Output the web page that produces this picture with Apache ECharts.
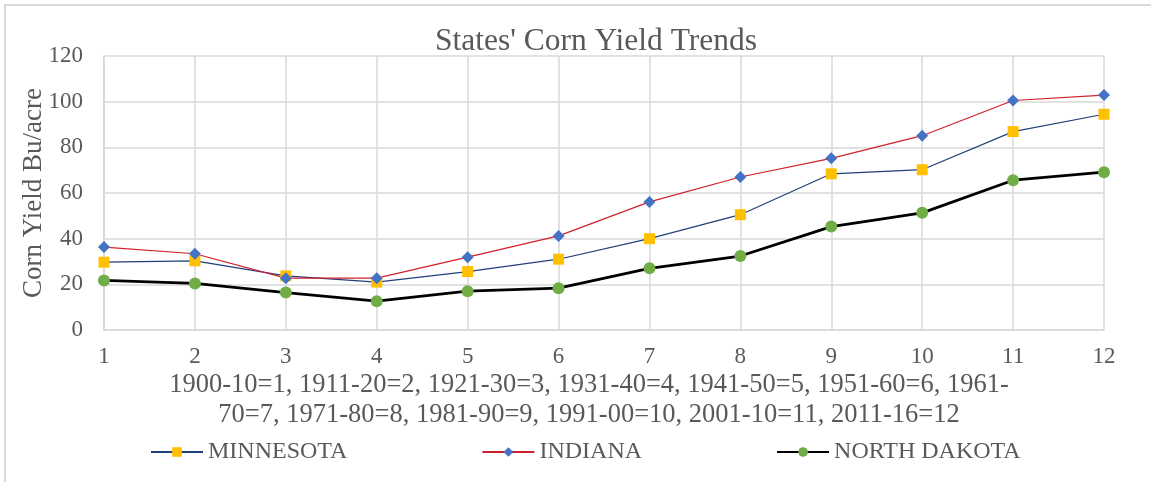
<!DOCTYPE html>
<html>
<head>
<meta charset="utf-8">
<script src="https://cdn.jsdelivr.net/npm/echarts@6/dist/echarts.min.js"></script>
<style>
html,body{margin:0;padding:0;background:#fff;}
#frame{position:absolute;left:4px;top:4px;width:1160px;height:490px;border-left:2px solid #d9d9d9;border-top:2px solid #d9d9d9;box-sizing:border-box;}
#chart{position:absolute;left:0;top:0;width:1151px;height:482px;}
</style>
</head>
<body>
<div id="frame"></div>
<div id="chart"></div>
<script>
const categories = ['1','2','3','4','5','6','7','8','9','10','11','12'];
const minnesota = [29.7, 30.3, 23.7, 21.0, 25.6, 31.0, 40.0, 50.5, 68.4, 70.2, 86.9, 94.5];
const indiana = [36.3, 33.4, 22.7, 22.7, 31.9, 41.2, 56.1, 67.0, 75.2, 85.1, 100.5, 102.9];
const northDakota = [21.7, 20.4, 16.4, 12.6, 17.0, 18.3, 27.0, 32.4, 45.3, 51.3, 65.6, 69.1];
const yTicks = [0, 20, 40, 60, 80, 100, 120];

const FONT = '"Liberation Serif", "Times New Roman", serif';
const TXT = '#595959';
const GRID = '#d9d9d9';

const chart = echarts.init(document.getElementById('chart'), null, {renderer: 'canvas'});
chart.setOption({
  backgroundColor: 'transparent',
  animation: false,
  textStyle: {fontFamily: FONT, color: TXT},
  title: {
    text: "States' Corn Yield Trends",
    left: 591, top: 21, textAlign: 'center',
    textStyle: {fontFamily: FONT, fontSize: 31.5, fontWeight: 'normal', color: TXT}
  },
  legend: {
    left: 150, top: 440, padding: 0,
    itemWidth: 52, itemHeight: 12, itemGap: 134,
    textStyle: {fontFamily: FONT, fontSize: 24, color: TXT},
    data: ['MINNESOTA', 'INDIANA', 'NORTH DAKOTA']
  },
  grid: {left: 104, right: 47, top: 56, bottom: 152, containLabel: false},
  xAxis: {
    type: 'category',
    data: categories,
    boundaryGap: false,
    axisLine: {lineStyle: {color: GRID, width: 1.5}},
    axisTick: {show: false},
    splitLine: {show: true, lineStyle: {color: GRID, width: 1.5}},
    axisLabel: {fontFamily: FONT, fontSize: 23, color: TXT, margin: 15},
    name: '1900-10=1, 1911-20=2, 1921-30=3, 1931-40=4, 1941-50=5, 1951-60=6, 1961-\n70=7, 1971-80=8, 1981-90=9, 1991-00=10, 2001-10=11, 2011-16=12',
    nameLocation: 'middle',
    nameGap: 40,
    nameMoveOverlap: false,
    nameTextStyle: {fontFamily: FONT, fontSize: 26.5, color: TXT, lineHeight: 30, verticalAlign: 'top', align: 'center', padding: [0, 30, 0, 0]}
  },
  yAxis: {
    type: 'value',
    min: 0, max: 120, interval: 20,
    axisLine: {show: true, lineStyle: {color: GRID, width: 1.5}},
    axisTick: {show: false},
    splitLine: {show: true, lineStyle: {color: GRID, width: 1.5}},
    axisLabel: {fontFamily: FONT, fontSize: 23, color: TXT, margin: 21,
      formatter: v => yTicks.includes(v) ? String(v) : ''},
    name: 'Corn Yield Bu/acre',
    nameLocation: 'middle',
    nameGap: 57,
    nameMoveOverlap: false,
    nameTextStyle: {fontFamily: FONT, fontSize: 27, color: TXT}
  },
  series: [
    {
      name: 'MINNESOTA', type: 'line', data: minnesota,
      symbol: 'rect', symbolSize: 11,
      lineStyle: {color: '#223f7a', width: 1.2},
      itemStyle: {color: '#ffc000'}
    },
    {
      name: 'INDIANA', type: 'line', data: indiana,
      symbol: 'diamond', symbolSize: 12,
      lineStyle: {color: '#d0202a', width: 1.2},
      itemStyle: {color: '#4472c4'}
    },
    {
      name: 'NORTH DAKOTA', type: 'line', data: northDakota,
      symbol: 'circle', symbolSize: 12,
      lineStyle: {color: '#000000', width: 2.8},
      itemStyle: {color: '#70ad47'}
    }
  ]
});
</script>
</body>
</html>
